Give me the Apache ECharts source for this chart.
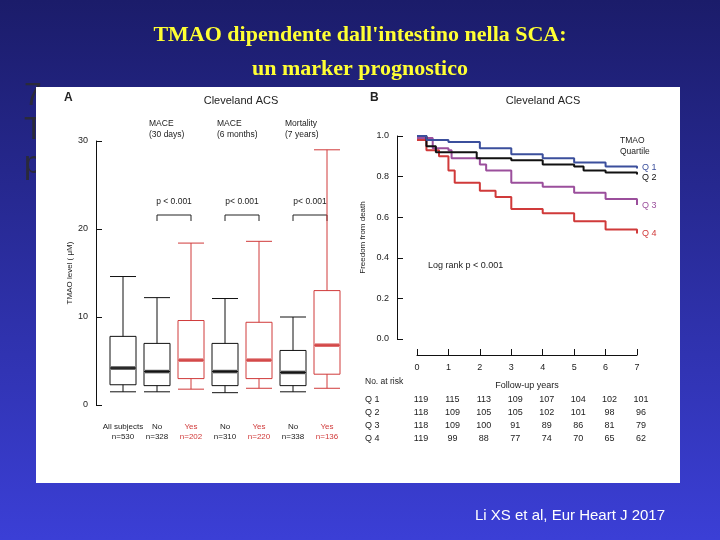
<!DOCTYPE html>
<html><head><meta charset="utf-8">
<script src="https://cdn.jsdelivr.net/npm/echarts@6/dist/echarts.min.js"></script>
<style>html,body{margin:0;padding:0;}#main{width:720px;height:540px;}</style>
</head><body><div id="main"></div>
<script>
// panel A: TMAO level box plots
var groups = ['All subjects', 'No', 'Yes', 'No', 'Yes', 'No', 'Yes'];
var groupN = ['n=530', 'n=328', 'n=202', 'n=310', 'n=220', 'n=338', 'n=136'];
var groupRed = [false, false, true, false, true, false, true];
// [min, Q1, median, Q3, max]
var boxes = [
	[1.5, 2.3, 4.2, 7.8, 14.6],
	[1.5, 2.2, 3.8, 7.0, 12.2],
	[1.8, 3.0, 5.1, 9.6, 18.4],
	[1.4, 2.2, 3.8, 7.0, 12.1],
	[1.9, 3.0, 5.1, 9.4, 18.6],
	[1.5, 2.2, 3.7, 6.2, 10.0],
	[1.9, 3.5, 6.8, 13.0, 29.0]
];
var endpoints = ['MACE\n(30 days)', 'MACE\n(6 months)', 'Mortality\n(7 years)'];
var pLabels = ['p < 0.001', 'p< 0.001', 'p< 0.001'];

// panel B: Kaplan-Meier curves [year, freedom from death]
var q1 = [[0,1],[0.3,0.98],[1,0.97],[2,0.94],[3,0.91],[4,0.89],[5,0.87],[6,0.85],[7,0.84]];
var q2 = [[0,1],[0.3,0.95],[0.6,0.92],[1.8,0.92],[1.9,0.89],[3,0.88],[4,0.86],[5,0.85],[5.3,0.83],[6,0.82],[7,0.81]];
var q3 = [[0,0.99],[0.5,0.94],[1,0.93],[1.1,0.89],[2,0.86],[2.2,0.83],[3,0.77],[4,0.75],[5,0.72],[6,0.69],[7,0.66]];
var q4 = [[0,0.98],[0.3,0.93],[0.7,0.9],[1,0.83],[1.2,0.77],[2,0.73],[2.5,0.7],[3,0.64],[4,0.62],[5,0.58],[6,0.54],[7,0.52]];
var quartNames = ['Q 1', 'Q 2', 'Q 3', 'Q 4'];
var quartColors = ['#3b4f9c', '#111111', '#9b4f9c', '#d03a3a'];
var years = [0, 1, 2, 3, 4, 5, 6, 7];
var atRisk = [
	[119, 115, 113, 109, 107, 104, 102, 101],
	[118, 109, 105, 105, 102, 101, 98, 96],
	[118, 109, 100, 91, 89, 86, 81, 79],
	[119, 99, 88, 77, 74, 70, 65, 62]
];

var FONT = 'Liberation Sans';
var chart = echarts.init(document.getElementById('main'));

var median = boxes.map(function (b, i) { return [i, b[2]]; });

chart.setOption({
	animation: false,
	textStyle: {fontFamily: FONT},
	grid: [
		{left: 106, width: 238, top: 141, bottom: 135},
		{left: 417, width: 220, top: 136, bottom: 201}
	],
	xAxis: [
		{type: 'category', gridIndex: 0, data: groups,
			axisLine: {show: false}, axisTick: {show: false},
			axisLabel: {margin: 17, interval: 0, lineHeight: 10,
				formatter: function (v, i) {
					var s = groupRed[i] ? 'r' : 'k';
					return '{' + s + '|' + v + '}\n{' + s + '|' + groupN[i] + '}';
				},
				rich: {k: {color: '#222', fontSize: 8, fontFamily: FONT}, r: {color: '#d03a3a', fontSize: 8, fontFamily: FONT}}}},
		{type: 'value', gridIndex: 1, min: 0, max: 7, interval: 1, offset: 16,
			axisLine: {onZero: false, lineStyle: {color: '#111'}}, axisTick: {inside: true, length: 6, lineStyle: {color: '#111'}},
			splitLine: {show: false},
			axisLabel: {color: '#222', fontSize: 9, margin: 8},
			name: 'Follow-up years', nameLocation: 'middle', nameGap: 26,
			nameTextStyle: {color: '#222', fontSize: 9}}
	],
	yAxis: [
		{type: 'value', gridIndex: 0, min: 0, max: 30, interval: 10, offset: 10,
			axisLine: {show: true, onZero: false, lineStyle: {color: '#111'}},
			axisTick: {show: true, inside: true, length: 6, lineStyle: {color: '#111'}},
			splitLine: {show: false},
			axisLabel: {color: '#222', fontSize: 9, margin: 8},
			name: 'TMAO level ( μM)', nameLocation: 'middle', nameGap: 22,
			nameTextStyle: {color: '#222', fontSize: 8}},
		{type: 'value', gridIndex: 1, min: 0, max: 1, interval: 0.2, offset: 20,
			axisLine: {show: true, onZero: false, lineStyle: {color: '#111'}},
			axisTick: {show: true, inside: true, length: 6, lineStyle: {color: '#111'}},
			splitLine: {show: false},
			axisLabel: {color: '#222', fontSize: 9, margin: 8, formatter: function (v) { return v.toFixed(1); }},
			name: 'Freedom from death', nameLocation: 'middle', nameGap: 30,
			nameTextStyle: {color: '#222', fontSize: 8}}
	],
	series: [
		{type: 'boxplot', xAxisIndex: 0, yAxisIndex: 0, boxWidth: [26, 26],
			data: boxes.map(function (b, i) {
				var c = groupRed[i] ? '#d03a3a' : '#111';
				return {value: b, itemStyle: {color: 'transparent', borderColor: c, borderWidth: 1}};
			})},
		{type: 'scatter', xAxisIndex: 0, yAxisIndex: 0, symbol: 'rect', symbolSize: [24, 3.5], z: 5,
			data: median.map(function (m, i) {
				return {value: m, itemStyle: {color: groupRed[i] ? '#d03a3a' : '#111'}};
			})}
	].concat([q1, q2, q3, q4].map(function (d, i) {
		return {type: 'line', xAxisIndex: 1, yAxisIndex: 1, data: d, step: 'end',
			showSymbol: false, lineStyle: {color: quartColors[i], width: 2}, z: 4 - i};
	}))
});

var g = [];
// slide background and panel
g.push({type: 'rect', shape: {x: 0, y: 0, width: 720, height: 540}, z: -10,
	style: {fill: new echarts.graphic.LinearGradient(0, 0, 0, 1, [{offset: 0, color: '#1b1c6a'}, {offset: 1, color: '#3b3fd6'}])}});
['7', 'T', 'p'].forEach(function (t, i) {
	g.push({type: 'text', x: 24, y: 80 + i * 34, z: -9, style: {text: t, fontSize: 32, fill: '#2a2a3a', fontFamily: FONT}});
});
g.push({type: 'rect', shape: {x: 36, y: 87, width: 644, height: 396}, z: -8, style: {fill: '#ffffff'}});
g.push({type: 'text', x: 360, y: 18, style: {text: "TMAO dipendente dall'intestino nella SCA:\nun marker prognostico",
	fontSize: 22, fontWeight: 'bold', fontFamily: 'Liberation Serif', fill: '#ffff33', align: 'center', lineHeight: 34}});
g.push({type: 'text', x: 570, y: 508, style: {text: 'Li XS et al, Eur Heart J 2017', fontSize: 15, fill: '#ffffff', align: 'center', fontFamily: FONT}});

// panel A annotations
g.push({type: 'text', x: 64, y: 92, style: {text: 'A', fontSize: 12, fontWeight: 'bold', fill: '#222', fontFamily: FONT}});
g.push({type: 'text', x: 241, y: 95, style: {text: 'Cleveland ACS', fontSize: 11, fill: '#222', align: 'center', fontFamily: FONT}});
endpoints.forEach(function (t, k) {
	var a = chart.convertToPixel({gridIndex: 0}, [1 + 2 * k, 0])[0];
	var b = chart.convertToPixel({gridIndex: 0}, [2 + 2 * k, 0])[0];
	g.push({type: 'text', x: a - 8, y: 118, style: {text: t, fontSize: 8.5, fill: '#222', lineHeight: 11, fontFamily: FONT}});
	g.push({type: 'text', x: (a + b) / 2, y: 197, style: {text: pLabels[k], fontSize: 8.5, fill: '#222', align: 'center', fontFamily: FONT}});
	g.push({type: 'polyline', shape: {points: [[a, 221], [a, 215], [b, 215], [b, 221]]}, style: {stroke: '#222', lineWidth: 1, fill: null}});
});

// panel B annotations
g.push({type: 'text', x: 370, y: 92, style: {text: 'B', fontSize: 12, fontWeight: 'bold', fill: '#222', fontFamily: FONT}});
g.push({type: 'text', x: 543, y: 95, style: {text: 'Cleveland ACS', fontSize: 11, fill: '#222', align: 'center', fontFamily: FONT}});
g.push({type: 'text', x: 428, y: 261, style: {text: 'Log rank p < 0.001', fontSize: 9, fill: '#222', fontFamily: FONT}});
g.push({type: 'text', x: 620, y: 135, style: {text: 'TMAO\nQuartile', fontSize: 8.5, fill: '#222', lineHeight: 11, fontFamily: FONT}});
[q1, q2, q3, q4].forEach(function (d, i) {
	var p = chart.convertToPixel({gridIndex: 1}, d[d.length - 1]);
	var dy = [-1, 3, 0, 0][i];
	g.push({type: 'text', x: 642, y: p[1] + dy, style: {text: quartNames[i], fontSize: 9, fill: quartColors[i], verticalAlign: 'middle', fontFamily: FONT}});
});
g.push({type: 'text', x: 365, y: 377, style: {text: 'No. at risk', fontSize: 8.5, fill: '#222', fontFamily: FONT}});
atRisk.forEach(function (row, i) {
	var y = 400 + i * 13;
	g.push({type: 'text', x: 365, y: y, style: {text: quartNames[i], fontSize: 9, fill: '#222', verticalAlign: 'middle', fontFamily: FONT}});
	row.forEach(function (v, j) {
		var x = chart.convertToPixel({gridIndex: 1}, [years[j], 0])[0];
		g.push({type: 'text', x: x + 4, y: y, style: {text: String(v), fontSize: 9, fill: '#222', align: 'center', verticalAlign: 'middle', fontFamily: FONT}});
	});
});
chart.setOption({graphic: g});
</script>
</body></html>
